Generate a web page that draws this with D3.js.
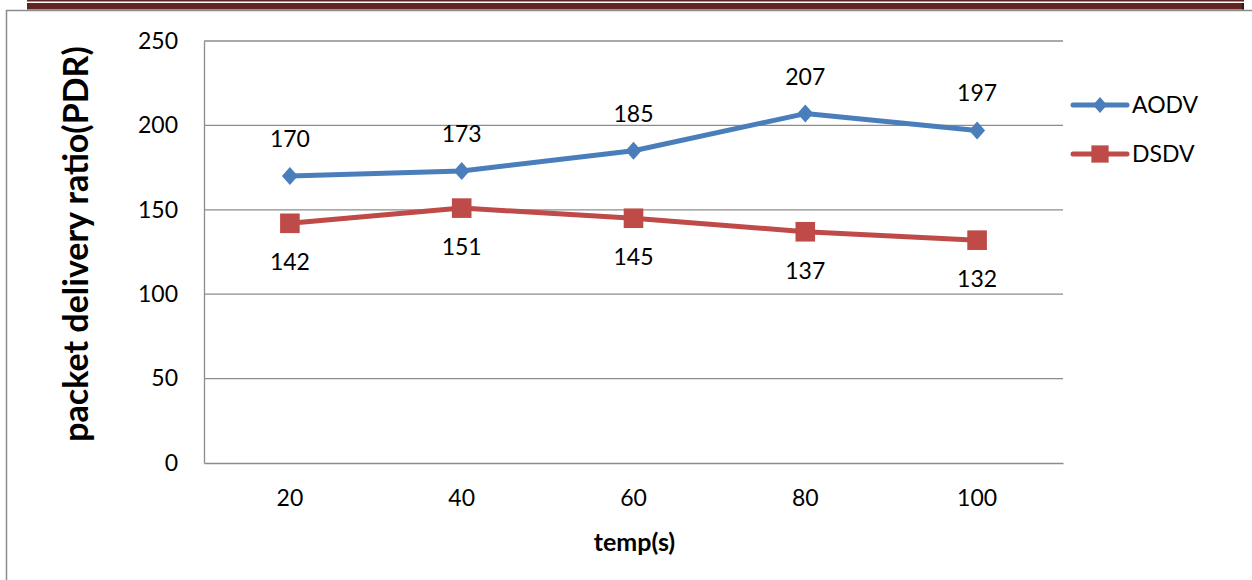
<!DOCTYPE html>
<html>
<head>
<meta charset="utf-8">
<script src="https://cdn.jsdelivr.net/npm/d3@7"></script>
<style>
  html, body { margin: 0; padding: 0; background: #fff; }
  svg { display: block; font-family: Lato, "Open Sans", sans-serif; }
</style>
</head>
<body>
<svg id="chart" width="1252" height="580"></svg>
<script>
// Simulation time points and packet delivery results per protocol
const categories = ["20", "40", "60", "80", "100"];
const aodv = [170, 173, 185, 207, 197];
const dsdv = [142, 151, 145, 137, 132];
const yTicks = [0, 50, 100, 150, 200, 250];
const seriesNames = ["AODV", "DSDV"];

const svg = d3.select("#chart");
const W = 1252, H = 580;
const FONT = 23;

// Page header rule (double band)
svg.append("rect").attr("x", 27).attr("y", 0).attr("width", 1217).attr("height", 1.5).attr("fill", "#632523");
svg.append("rect").attr("x", 27).attr("y", 3).attr("width", 1217).attr("height", 6.5).attr("fill", "#632523");
svg.append("rect").attr("x", 1242).attr("y", 3).attr("width", 2).attr("height", 6.5).attr("fill", "#3d1614");

// Chart frame
svg.append("path")
  .attr("d", `M6.5,${H} V10.5 H${W}`)
  .attr("fill", "none").attr("stroke", "#8c8c8c").attr("stroke-width", 1.5);

const plot = { left: 204, right: 1063, top: 41, bottom: 463 };

const x = d3.scaleBand().domain(categories).range([plot.left, plot.right]);
const y = d3.scaleLinear().domain([0, 250]).range([plot.bottom, plot.top]);

// Gridlines
svg.append("g").selectAll("line").data(yTicks.filter(d => d > 0)).join("line")
  .attr("x1", plot.left).attr("x2", plot.right)
  .attr("y1", d => y(d)).attr("y2", d => y(d))
  .attr("stroke", "#8c8c8c").attr("stroke-width", 1.3);

// Y axis
const yAxis = svg.append("g").attr("transform", `translate(${plot.left},0)`)
  .call(d3.axisLeft(y).tickValues(yTicks).tickSize(0).tickPadding(26));
yAxis.select(".domain").attr("stroke", "#8c8c8c").attr("stroke-width", 1.3);
yAxis.selectAll("text").attr("font-size", FONT).attr("fill", "#000")
  .attr("font-family", "Lato, 'Open Sans', sans-serif");

// X axis
const xAxis = svg.append("g").attr("transform", `translate(0,${plot.bottom})`)
  .call(d3.axisBottom(x).tickSize(0).tickPadding(27));
xAxis.select(".domain").attr("stroke", "#8c8c8c").attr("stroke-width", 1.3);
xAxis.selectAll("text").attr("font-size", FONT).attr("fill", "#000")
  .attr("font-family", "Lato, 'Open Sans', sans-serif");

// Axis titles
svg.append("text")
  .attr("x", x("60") + x.bandwidth() / 2 + 1).attr("y", 551)
  .attr("text-anchor", "middle").attr("font-size", 25).attr("font-weight", "bold")
  .text("temp(s)");
svg.append("text")
  .attr("transform", `translate(88,244) rotate(-90)`)
  .attr("text-anchor", "middle").attr("font-size", 34).attr("font-weight", "bold")
  .text("packet delivery ratio(PDR)");

const cx = d => x(d) + x.bandwidth() / 2;
const line = d3.line().x(d => cx(d[0])).y(d => y(d[1]));

const series = [
  { name: seriesNames[0], values: aodv, color: "#4a7ebb", marker: "diamond", labelDy: -29 },
  { name: seriesNames[1], values: dsdv, color: "#be4b48", marker: "square", labelDy: 47 }
];

function drawMarker(g, type, color, s) {
  if (type === "diamond") {
    g.append("path").attr("d", `M0,${-9 * s} L${8 * s},0 L0,${9 * s} L${-8 * s},0 Z`).attr("fill", color);
  } else {
    const h = 9.8 * s;
    g.append("rect").attr("x", -h).attr("y", -h).attr("width", 2 * h).attr("height", 2 * h).attr("fill", color);
  }
}

series.forEach(s => {
  const pts = categories.map((c, i) => [c, s.values[i]]);
  svg.append("path").datum(pts).attr("d", line)
    .attr("fill", "none").attr("stroke", s.color).attr("stroke-width", 5)
    .attr("stroke-linejoin", "round").attr("stroke-linecap", "round");
  pts.forEach(p => {
    const g = svg.append("g").attr("transform", `translate(${cx(p[0])},${y(p[1])})`);
    drawMarker(g, s.marker, s.color, 1);
    svg.append("text")
      .attr("x", cx(p[0])).attr("y", y(p[1]) + s.labelDy)
      .attr("text-anchor", "middle").attr("font-size", FONT).attr("fill", "#000")
      .text(p[1]);
  });
});

// Legend
const legend = svg.append("g");
series.forEach((s, i) => {
  const ly = 105 + i * 49;
  legend.append("line").attr("x1", 1073).attr("x2", 1127).attr("y1", ly).attr("y2", ly)
    .attr("stroke", s.color).attr("stroke-width", 5).attr("stroke-linecap", "round");
  const g = legend.append("g").attr("transform", `translate(1100,${ly})`);
  drawMarker(g, s.marker, s.color, 0.88);
  legend.append("text").attr("x", 1132).attr("y", ly + 8).attr("font-size", FONT).attr("fill", "#000")
    .text(s.name);
});
</script>
</body>
</html>
